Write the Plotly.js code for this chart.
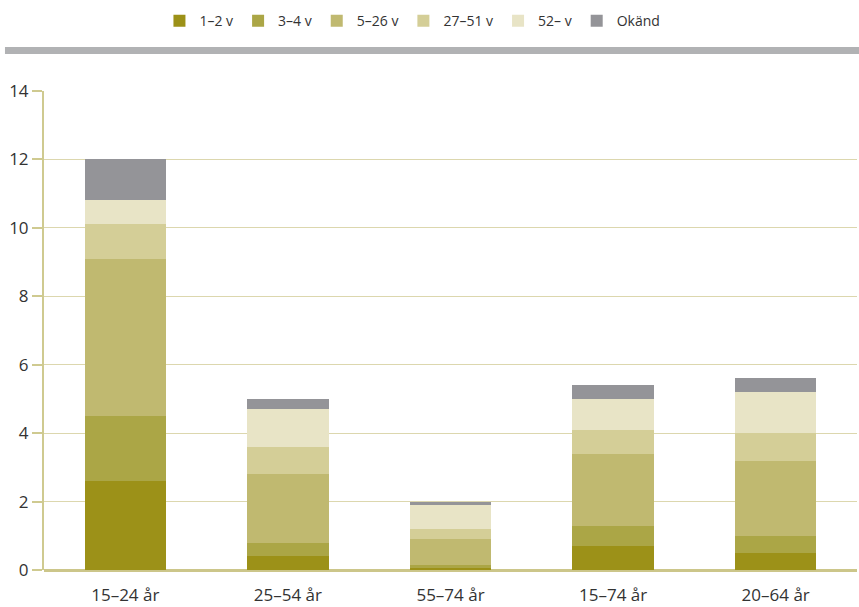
<!DOCTYPE html>
<html><head><meta charset="utf-8">
<script src="https://cdn.plot.ly/plotly-3.0.1.min.js"></script>
<style>html,body{margin:0;padding:0;background:#fff}#chart{width:859px;height:607px}</style>
</head><body><div id="chart"></div>
<script>
const categories = ['15–24 år','25–54 år','55–74 år','15–74 år','20–64 år'];
const seriesNames = ['1–2 v','3–4 v','5–26 v','27–51 v','52– v','Okänd'];
const s1_2 = [2.6, 0.4, 0.05, 0.7, 0.5];
const s3_4 = [1.9, 0.4, 0.1, 0.6, 0.5];
const s5_26 = [4.6, 2.0, 0.75, 2.1, 2.2];
const s27_51 = [1.0, 0.8, 0.3, 0.7, 0.8];
const s52 = [0.7, 1.1, 0.7, 0.9, 1.2];
const sOkand = [1.2, 0.3, 0.1, 0.4, 0.4];
const colors = ['#9C9118','#ABA646','#C0B970','#D4CE97','#E8E4C6','#949498'];
const allSeries = [s1_2, s3_4, s5_26, s27_51, s52, sOkand];

const FONT = '"Open Sans","DejaVu Sans",sans-serif';
const traces = allSeries.map((vals, i) => ({
  type: 'bar', x: categories, y: vals, name: seriesNames[i],
  marker: {color: colors[i], line: {width: 0}}, hoverinfo: 'skip'
}));

const layout = {
  width: 859, height: 607,
  margin: {l: 44, r: 2, t: 91, b: 37},
  barmode: 'stack', bargap: 0.5,
  paper_bgcolor: '#fff', plot_bgcolor: '#fff',
  font: {family: FONT, color: '#333', size: 17},
  showlegend: true,
  legend: {orientation: 'h', x: 0.142, xanchor: 'left', y: 1.146, yanchor: 'middle',
    font: {size: 14, color: '#333', family: FONT}, itemgap: 26, traceorder: 'normal'},
  xaxis: {type: 'category', showgrid: false, showline: false, zeroline: false,
    ticks: 'outside', ticklen: 10, tickcolor: 'rgba(0,0,0,0)',
    tickfont: {size: 17, color: '#333'}},
  yaxis: {range: [0, 14], dtick: 2, showgrid: true, gridcolor: '#DCD7AE', gridwidth: 1,
    showline: true, linecolor: '#CFCA90', linewidth: 2,
    ticks: 'outside', ticklen: 10, tickwidth: 2, tickcolor: '#CFCA90',
    zeroline: true, zerolinecolor: '#CCC68A', zerolinewidth: 3,
    tickfont: {size: 17, color: '#333'}},
  shapes: [
    {type: 'rect', xref: 'paper', yref: 'paper', x0: -0.048, x1: 1.003,
     y0: 1 + (91 - 54) / 479, y1: 1 + (91 - 47) / 479,
     fillcolor: '#B1B2B4', line: {width: 0}}
  ]
};
Plotly.newPlot('chart', traces, layout, {displayModeBar: false, staticPlot: true});
</script></body></html>
